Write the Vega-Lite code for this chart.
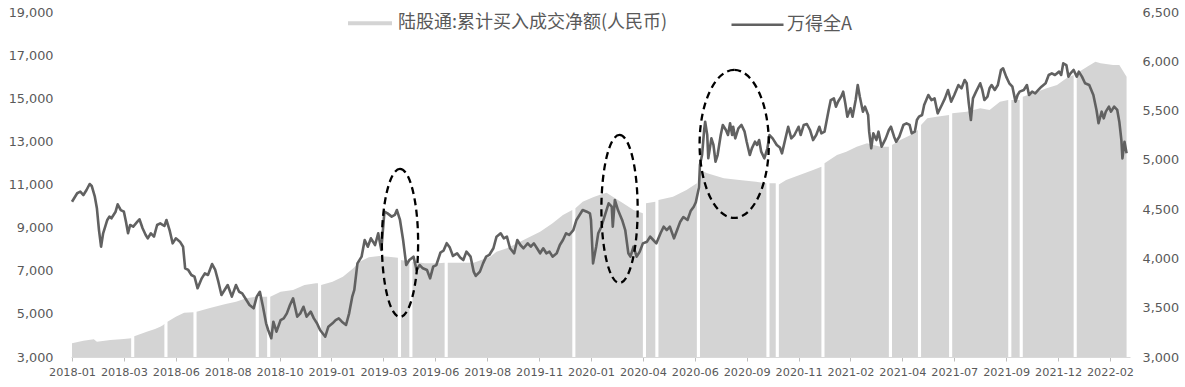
{
  "$schema": "https://vega.github.io/schema/vega-lite/v6.json",
  "autosize": {"type": "none"},
  "padding": {"left": 71, "top": 12, "right": 55, "bottom": 30},
  "width": 1059,
  "height": 345,
  "background": "white",
  "config": {"view": {"stroke": null}, "axis": {"grid": false, "labelFont": "DejaVu Sans", "labelColor": "#595959"}},
  "datasets": {
    "cum": [
      {"i":0,"v":3635},{"i":11,"v":3756},{"i":21,"v":3821},{"i":24,"v":3711},{"i":37,"v":3788},{"i":50,"v":3830},{"i":57,"v":3866},{"i":58,"v":null},
      {"i":60,"v":3960},{"i":72,"v":4175},{"i":80,"v":4300},{"i":85,"v":4407},{"i":88,"v":4484},{"i":89,"v":4540},{"i":90,"v":null},
      {"i":92,"v":4639},{"i":100,"v":4871},{"i":108,"v":5056},{"i":117,"v":5071},{"i":118,"v":null},
      {"i":120,"v":5102},{"i":132,"v":5257},{"i":148,"v":5458},{"i":158,"v":5566},{"i":168,"v":5721},{"i":177,"v":5798},{"i":178,"v":null},
      {"i":180,"v":5798},{"i":188,"v":5798},{"i":189,"v":null},
      {"i":191,"v":5798},{"i":201,"v":6029},{"i":213,"v":6107},{"i":224,"v":6339},{"i":235,"v":6416},{"i":237,"v":6416},{"i":238,"v":null},
      {"i":240,"v":6339},{"i":251,"v":6493},{"i":261,"v":6725},{"i":271,"v":7111},{"i":277,"v":7421},{"i":286,"v":7624},{"i":296,"v":7684},{"i":305,"v":7653},{"i":314,"v":7600},{"i":315,"v":null},
      {"i":317,"v":7499},{"i":325,"v":7421},{"i":326,"v":null},
      {"i":328,"v":7421},{"i":340,"v":7344},{"i":353,"v":7344},{"i":359,"v":7370},{"i":360,"v":null},
      {"i":362,"v":7375},{"i":387,"v":7375},{"i":403,"v":7653},{"i":409,"v":7885},{"i":419,"v":8041},{"i":435,"v":8426},{"i":451,"v":8813},{"i":463,"v":9201},{"i":473,"v":9586},{"i":482,"v":9818},{"i":483,"v":null},
      {"i":485,"v":9896},{"i":492,"v":10203},{"i":502,"v":10407},{"i":508,"v":10514},{"i":515,"v":10620},{"i":521,"v":10435},{"i":531,"v":10129},{"i":541,"v":9818},{"i":550,"v":9665},{"i":551,"v":null},
      {"i":553,"v":10129},{"i":562,"v":10203},{"i":563,"v":null},
      {"i":565,"v":10282},{"i":579,"v":10435},{"i":592,"v":10745},{"i":602,"v":11056},{"i":603,"v":null},
      {"i":605,"v":11673},{"i":612,"v":11520},{"i":628,"v":11288},{"i":643,"v":11209},{"i":659,"v":11130},{"i":669,"v":11056},{"i":670,"v":null},
      {"i":672,"v":11056},{"i":678,"v":11056},{"i":679,"v":null},
      {"i":681,"v":11000},{"i":688,"v":11209},{"i":701,"v":11441},{"i":714,"v":11673},{"i":722,"v":11827},{"i":723,"v":null},
      {"i":725,"v":11984},{"i":737,"v":12369},{"i":746,"v":12522},{"i":756,"v":12754},{"i":766,"v":12911},{"i":772,"v":12833},{"i":779,"v":12754},{"i":787,"v":12754},{"i":788,"v":null},
      {"i":790,"v":12833},{"i":798,"v":13065},{"i":808,"v":13296},{"i":815,"v":13528},{"i":816,"v":null},
      {"i":818,"v":13760},{"i":824,"v":14071},{"i":833,"v":14145},{"i":845,"v":14224},{"i":846,"v":null},
      {"i":848,"v":14303},{"i":862,"v":14377},{"i":875,"v":14535},{"i":884,"v":14456},{"i":894,"v":14841},{"i":902,"v":14920},{"i":903,"v":null},
      {"i":905,"v":14920},{"i":913,"v":14920},{"i":914,"v":null},
      {"i":916,"v":15073},{"i":926,"v":15230},{"i":939,"v":15462},{"i":949,"v":15615},{"i":958,"v":15926},{"i":965,"v":16079},{"i":966,"v":null},
      {"i":968,"v":16158},{"i":978,"v":16464},{"i":986,"v":16696},{"i":991,"v":16622},{"i":1003,"v":16542},{"i":1009,"v":16542},{"i":1012,"v":16311},{"i":1016,"v":16000}
    ],
    "wind": [
      {"i":0,"w":4575},{"i":5,"w":4661},{"i":8,"w":4677},{"i":11,"w":4643},{"i":14,"w":4694},{"i":17,"w":4755},{"i":19,"w":4735},{"i":22,"w":4626},{"i":24,"w":4509},{"i":26,"w":4288},
      {"i":28,"w":4119},{"i":30,"w":4255},{"i":34,"w":4390},{"i":36,"w":4424},{"i":38,"w":4407},{"i":42,"w":4474},{"i":44,"w":4549},{"i":47,"w":4491},{"i":50,"w":4474},{"i":52,"w":4373},
      {"i":54,"w":4255},{"i":56,"w":4339},{"i":59,"w":4322},{"i":63,"w":4373},{"i":65,"w":4397},{"i":68,"w":4306},{"i":71,"w":4238},{"i":73,"w":4204},{"i":76,"w":4255},{"i":79,"w":4221},
      {"i":82,"w":4339},{"i":85,"w":4356},{"i":89,"w":4329},{"i":91,"w":4390},{"i":94,"w":4288},{"i":97,"w":4153},{"i":100,"w":4204},{"i":104,"w":4170},{"i":107,"w":4119},{"i":109,"w":3900},
      {"i":112,"w":3883},{"i":115,"w":3832},{"i":118,"w":3815},{"i":121,"w":3697},{"i":125,"w":3798},{"i":128,"w":3849},{"i":131,"w":3832},{"i":135,"w":3943},{"i":138,"w":3883},{"i":141,"w":3764},
      {"i":144,"w":3629},{"i":147,"w":3680},{"i":150,"w":3730},{"i":154,"w":3612},{"i":158,"w":3730},{"i":161,"w":3662},{"i":164,"w":3646},{"i":168,"w":3578},{"i":171,"w":3527},{"i":175,"w":3494},
      {"i":178,"w":3612},{"i":181,"w":3662},{"i":184,"w":3510},{"i":187,"w":3342},{"i":189,"w":3274},{"i":192,"w":3190},{"i":194,"w":3358},{"i":197,"w":3257},{"i":201,"w":3375},{"i":204,"w":3392},
      {"i":207,"w":3443},{"i":210,"w":3527},{"i":213,"w":3595},{"i":217,"w":3409},{"i":220,"w":3443},{"i":223,"w":3510},{"i":226,"w":3409},{"i":230,"w":3460},{"i":233,"w":3392},{"i":236,"w":3342},
      {"i":239,"w":3274},{"i":244,"w":3206},{"i":247,"w":3308},{"i":251,"w":3342},{"i":254,"w":3375},{"i":257,"w":3392},{"i":260,"w":3358},{"i":264,"w":3325},{"i":267,"w":3443},{"i":270,"w":3612},
      {"i":272,"w":3680},{"i":275,"w":3950},{"i":279,"w":4018},{"i":282,"w":4187},{"i":285,"w":4119},{"i":288,"w":4204},{"i":292,"w":4136},{"i":295,"w":4255},{"i":298,"w":4086},{"i":301,"w":4474},
      {"i":304,"w":4457},{"i":308,"w":4424},{"i":311,"w":4441},{"i":313,"w":4491},{"i":316,"w":4390},{"i":319,"w":4187},{"i":322,"w":3933},{"i":325,"w":3984},{"i":329,"w":4018},{"i":332,"w":3883},
      {"i":335,"w":3933},{"i":338,"w":3900},{"i":342,"w":3883},{"i":345,"w":3798},{"i":348,"w":3916},{"i":351,"w":3933},{"i":355,"w":4060},{"i":358,"w":4080},{"i":361,"w":4155},{"i":364,"w":4110},
      {"i":367,"w":4025},{"i":371,"w":4052},{"i":374,"w":4010},{"i":377,"w":3984},{"i":380,"w":4069},{"i":384,"w":4018},{"i":387,"w":3866},{"i":389,"w":3822},{"i":393,"w":3866},{"i":396,"w":3950},
      {"i":399,"w":4018},{"i":402,"w":4035},{"i":406,"w":4103},{"i":409,"w":4221},{"i":413,"w":4255},{"i":416,"w":4204},{"i":419,"w":4221},{"i":422,"w":4103},{"i":426,"w":4052},{"i":429,"w":4187},
      {"i":432,"w":4136},{"i":435,"w":4103},{"i":439,"w":4153},{"i":442,"w":4119},{"i":445,"w":4153},{"i":448,"w":4103},{"i":451,"w":4052},{"i":454,"w":4103},{"i":457,"w":4052},{"i":460,"w":4069},
      {"i":463,"w":4018},{"i":467,"w":4052},{"i":470,"w":4136},{"i":473,"w":4187},{"i":476,"w":4255},{"i":479,"w":4238},{"i":483,"w":4288},{"i":486,"w":4390},{"i":489,"w":4441},{"i":492,"w":4491},
      {"i":496,"w":4474},{"i":499,"w":4457},{"i":500,"w":4390},{"i":502,"w":3950},{"i":505,"w":4119},{"i":507,"w":4255},{"i":510,"w":4322},{"i":513,"w":4424},{"i":517,"w":4559},{"i":520,"w":4525},
      {"i":521,"w":4322},{"i":523,"w":4593},{"i":526,"w":4491},{"i":530,"w":4390},{"i":533,"w":4288},{"i":536,"w":4052},{"i":538,"w":4018},{"i":541,"w":4119},{"i":544,"w":4018},{"i":547,"w":4069},
      {"i":550,"w":4153},{"i":554,"w":4170},{"i":557,"w":4221},{"i":560,"w":4187},{"i":563,"w":4153},{"i":567,"w":4255},{"i":570,"w":4322},{"i":573,"w":4288},{"i":576,"w":4322},{"i":580,"w":4204},
      {"i":583,"w":4288},{"i":586,"w":4373},{"i":589,"w":4420},{"i":593,"w":4390},{"i":596,"w":4480},{"i":599,"w":4525},{"i":601,"w":4570},{"i":604,"w":4720},{"i":605,"w":4950},{"i":607,"w":5049},
      {"i":609,"w":5300},{"i":610,"w":5387},{"i":612,"w":5252},{"i":613,"w":5016},{"i":616,"w":5218},{"i":618,"w":5151},{"i":620,"w":4981},{"i":622,"w":5049},{"i":625,"w":5252},{"i":627,"w":5354},
      {"i":630,"w":5303},{"i":632,"w":5252},{"i":634,"w":5371},{"i":636,"w":5252},{"i":637,"w":5336},{"i":639,"w":5218},{"i":642,"w":5320},{"i":645,"w":5354},{"i":648,"w":5286},{"i":650,"w":5184},
      {"i":653,"w":5049},{"i":655,"w":5117},{"i":658,"w":5184},{"i":660,"w":5151},{"i":662,"w":5201},{"i":664,"w":5083},{"i":667,"w":5016},{"i":670,"w":5117},{"i":672,"w":5252},{"i":675,"w":5218},
      {"i":679,"w":5151},{"i":682,"w":5125},{"i":684,"w":5066},{"i":687,"w":5201},{"i":690,"w":5336},{"i":693,"w":5218},{"i":696,"w":5252},{"i":700,"w":5336},{"i":702,"w":5252},{"i":705,"w":5354},
      {"i":708,"w":5364},{"i":711,"w":5303},{"i":714,"w":5201},{"i":717,"w":5252},{"i":720,"w":5336},{"i":722,"w":5269},{"i":725,"w":5286},{"i":729,"w":5506},{"i":731,"w":5607},{"i":734,"w":5624},
      {"i":736,"w":5540},{"i":738,"w":5590},{"i":741,"w":5641},{"i":743,"w":5692},{"i":745,"w":5574},{"i":747,"w":5438},{"i":750,"w":5523},{"i":752,"w":5438},{"i":755,"w":5607},{"i":757,"w":5759},
      {"i":759,"w":5641},{"i":762,"w":5489},{"i":764,"w":5540},{"i":767,"w":5455},{"i":768,"w":5286},{"i":770,"w":5117},{"i":772,"w":5269},{"i":775,"w":5201},{"i":777,"w":5286},{"i":780,"w":5134},
      {"i":784,"w":5218},{"i":787,"w":5303},{"i":789,"w":5336},{"i":792,"w":5235},{"i":794,"w":5184},{"i":797,"w":5235},{"i":801,"w":5354},{"i":804,"w":5371},{"i":807,"w":5354},{"i":809,"w":5269},
      {"i":812,"w":5286},{"i":814,"w":5404},{"i":816,"w":5438},{"i":819,"w":5455},{"i":821,"w":5557},{"i":825,"w":5658},{"i":828,"w":5607},{"i":831,"w":5624},{"i":834,"w":5472},{"i":838,"w":5557},
      {"i":841,"w":5624},{"i":844,"w":5709},{"i":847,"w":5590},{"i":850,"w":5658},{"i":854,"w":5759},{"i":857,"w":5726},{"i":860,"w":5810},{"i":862,"w":5777},{"i":864,"w":5574},{"i":866,"w":5404},
      {"i":868,"w":5624},{"i":871,"w":5692},{"i":875,"w":5777},{"i":877,"w":5709},{"i":879,"w":5607},{"i":882,"w":5641},{"i":884,"w":5726},{"i":886,"w":5759},{"i":889,"w":5709},{"i":892,"w":5759},
      {"i":895,"w":5912},{"i":897,"w":5929},{"i":900,"w":5844},{"i":903,"w":5777},{"i":906,"w":5742},{"i":909,"w":5590},{"i":911,"w":5658},{"i":913,"w":5692},{"i":917,"w":5709},{"i":920,"w":5759},
      {"i":922,"w":5658},{"i":925,"w":5692},{"i":928,"w":5675},{"i":931,"w":5709},{"i":934,"w":5742},{"i":938,"w":5777},{"i":941,"w":5861},{"i":944,"w":5878},{"i":947,"w":5861},{"i":951,"w":5895},
      {"i":953,"w":5861},{"i":955,"w":5980},{"i":958,"w":5962},{"i":960,"w":5844},{"i":962,"w":5878},{"i":965,"w":5912},{"i":968,"w":5844},{"i":970,"w":5895},{"i":973,"w":5844},{"i":976,"w":5777},
      {"i":980,"w":5759},{"i":982,"w":5709},{"i":984,"w":5658},{"i":987,"w":5506},{"i":989,"w":5371},{"i":992,"w":5489},{"i":994,"w":5421},{"i":996,"w":5489},{"i":999,"w":5540},{"i":1001,"w":5489},
      {"i":1004,"w":5540},{"i":1007,"w":5506},{"i":1009,"w":5387},{"i":1011,"w":5201},{"i":1012,"w":5015},{"i":1014,"w":5184},{"i":1016,"w":5066}
    ],
    "rings": [{"i":316,"v":8290},{"i":527.5,"v":9865}],
    "ringWide": [{"i":638,"v":12880}]
  },
  "layer": [
    {
      "data": {"name": "cum"},
      "mark": {"type": "area", "invalid": "break-paths-filter-domains", "clip": true},
      "encoding": {
        "x": {"field": "i", "type": "quantitative",
          "scale": {"domain": [-0.96, 1019.3], "nice": false, "zero": false},
          "axis": {"values": [0,50,100,150,200,250,300,350,400,450,500,550,600,650,700,750,800,850,900,950,1000],
            "labelExpr": "['2018-01','2018-03','2018-06','2018-08','2018-10','2019-01','2019-03','2019-06','2019-08','2019-11','2020-01','2020-04','2020-06','2020-09','2020-11','2021-02','2021-04','2021-07','2021-09','2021-12','2022-02'][round(datum.value/50)]",
            "title": null, "domain": true, "domainColor": "#d9d9d9", "ticks": true, "tickSize": 4, "tickColor": "#bfbfbf",
            "labelFontSize": 11.25, "labelPadding": 5, "labelFlush": false, "labelOverlap": false}},
        "y": {"field": "v", "type": "quantitative",
          "scale": {"domain": [3000, 19000], "nice": false, "zero": false},
          "axis": {"orient": "left", "values": [3000,5000,7000,9000,11000,13000,15000,17000,19000], "format": ",d", "title": null,
            "domain": false, "ticks": false, "tickSize": 0, "labelPadding": 18, "labelFontSize": 12.8, "labelOverlap": false}},
        "fill": {"datum": "陆股通:累计买入成交净额(人民币)", "scale": {"range": ["#d4d4d4"]},
          "legend": {"orient": "none", "legendX": 277, "legendY": -10.7, "title": null, "padding": 0,
            "symbolType": "M-1,-0.09H1V0.09H-1Z", "symbolSize": 1936, "symbolStrokeWidth": 0, "symbolOpacity": 1,
            "labelFont": "Noto Sans CJK SC", "labelFontSize": 18, "labelColor": "#595959", "labelOffset": 6, "labelLimit": 600}}
      }
    },
    {
      "data": {"name": "wind"},
      "mark": {"type": "line", "strokeWidth": 2.6, "strokeJoin": "round"},
      "encoding": {
        "x": {"field": "i", "type": "quantitative"},
        "y": {"field": "w", "type": "quantitative",
          "scale": {"domain": [3000, 6500], "nice": false, "zero": false},
          "axis": {"orient": "right", "values": [3000,3500,4000,4500,5000,5500,6000,6500], "format": ",d", "title": null,
            "domain": false, "ticks": false, "tickSize": 0, "labelPadding": 12, "labelFontSize": 12.8, "labelOverlap": false}},
        "stroke": {"datum": "万得全A", "scale": {"range": ["#616161"]},
          "legend": {"orient": "none", "legendX": 659, "legendY": -14.7, "title": null, "padding": 0,
            "symbolType": "M-1,0H1", "symbolSize": 2704, "symbolStrokeWidth": 2.6,
            "labelFont": "Noto Sans CJK SC", "labelFontSize": 18, "labelColor": "#595959", "labelOffset": 2}}
      }
    },
    {
      "data": {"name": "rings"},
      "mark": {"type": "point", "shape": "M0,-1C0.1353,-1,0.245,-0.5523,0.245,0C0.245,0.5523,0.1353,1,0,1C-0.1353,1,-0.245,0.5523,-0.245,0C-0.245,-0.5523,-0.1353,-1,0,-1Z",
        "size": 21904, "filled": false, "stroke": "#000000", "strokeWidth": 2.3, "strokeDash": [7, 4.5], "opacity": 1},
      "encoding": {
        "x": {"field": "i", "type": "quantitative"},
        "y": {"field": "v", "type": "quantitative", "scale": {"domain": [3000, 19000], "nice": false, "zero": false}, "axis": null}
      }
    },
    {
      "data": {"name": "ringWide"},
      "mark": {"type": "point", "shape": "M0,-1C0.2585,-1,0.468,-0.5523,0.468,0C0.468,0.5523,0.2585,1,0,1C-0.2585,1,-0.468,0.5523,-0.468,0C-0.468,-0.5523,-0.2585,-1,0,-1Z",
        "size": 21904, "filled": false, "stroke": "#000000", "strokeWidth": 2.3, "strokeDash": [7, 4.5], "opacity": 1},
      "encoding": {
        "x": {"field": "i", "type": "quantitative"},
        "y": {"field": "v", "type": "quantitative", "scale": {"domain": [3000, 19000], "nice": false, "zero": false}, "axis": null}
      }
    }
  ],
  "resolve": {"scale": {"y": "independent"}}
}
